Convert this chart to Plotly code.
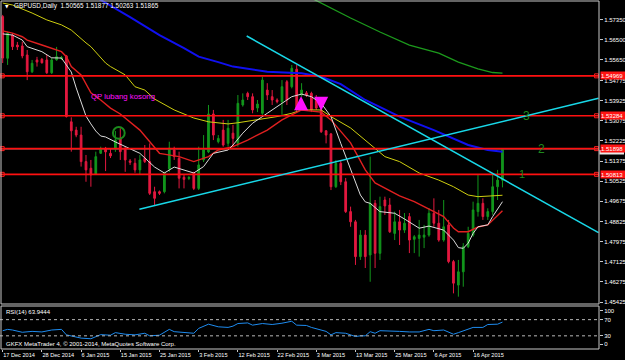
import plotly.graph_objects as go

# ---------------- data ----------------
dates = ["17 Dec 2014","18 Dec 2014","19 Dec 2014","21 Dec 2014","22 Dec 2014","23 Dec 2014","24 Dec 2014","26 Dec 2014",
         "28 Dec 2014","29 Dec 2014","30 Dec 2014","31 Dec 2014","1 Jan 2015","2 Jan 2015","4 Jan 2015","5 Jan 2015",
         "6 Jan 2015","7 Jan 2015","8 Jan 2015","9 Jan 2015","11 Jan 2015","12 Jan 2015","13 Jan 2015","14 Jan 2015",
         "15 Jan 2015","16 Jan 2015","18 Jan 2015","19 Jan 2015","20 Jan 2015","21 Jan 2015","22 Jan 2015","23 Jan 2015",
         "25 Jan 2015","26 Jan 2015","27 Jan 2015","28 Jan 2015","29 Jan 2015","30 Jan 2015","1 Feb 2015","2 Feb 2015",
         "3 Feb 2015","4 Feb 2015","5 Feb 2015","6 Feb 2015","8 Feb 2015","9 Feb 2015","10 Feb 2015","11 Feb 2015",
         "12 Feb 2015","13 Feb 2015","15 Feb 2015","16 Feb 2015","17 Feb 2015","18 Feb 2015","19 Feb 2015","20 Feb 2015",
         "22 Feb 2015","23 Feb 2015","24 Feb 2015","25 Feb 2015","26 Feb 2015","27 Feb 2015","1 Mar 2015","2 Mar 2015",
         "3 Mar 2015","4 Mar 2015","5 Mar 2015","6 Mar 2015","9 Mar 2015","10 Mar 2015","11 Mar 2015","12 Mar 2015",
         "13 Mar 2015","16 Mar 2015","17 Mar 2015","18 Mar 2015","19 Mar 2015","20 Mar 2015","23 Mar 2015","24 Mar 2015",
         "25 Mar 2015","26 Mar 2015","27 Mar 2015","30 Mar 2015","31 Mar 2015","1 Apr 2015","2 Apr 2015","3 Apr 2015",
         "6 Apr 2015","7 Apr 2015","8 Apr 2015","9 Apr 2015","10 Apr 2015","13 Apr 2015","14 Apr 2015","15 Apr 2015",
         "16 Apr 2015","17 Apr 2015","20 Apr 2015","21 Apr 2015","22 Apr 2015","23 Apr 2015","24 Apr 2015"]

open_ = [1.5747,1.5571,1.5669,1.5627,1.5623,1.5585,1.5514,1.5564,1.5567,1.5564,1.5510,1.5564,1.5570,1.5581,1.5303,1.5268,
         1.5247,1.5135,1.5107,1.5083,1.5170,1.5191,1.5170,1.5191,1.5233,1.5191,1.5138,1.5128,1.5100,1.5149,1.5135,1.5008,
         1.5008,1.5008,1.5104,1.5184,1.5149,1.5069,1.5064,1.5086,1.5022,1.5142,1.5176,1.5336,1.5219,1.5268,1.5212,1.5255,
         1.5212,1.5374,1.5423,1.5409,1.5361,1.5339,1.5437,1.5409,1.5395,1.5388,1.5472,1.5451,1.5525,1.5416,1.5425,1.5423,
         1.5403,1.5353,1.5265,1.5252,1.5029,1.5128,1.5050,1.4924,1.4881,1.4734,1.4825,1.4741,1.4959,1.4748,1.4973,1.4952,
         1.4832,1.4881,1.4846,1.4903,1.4807,1.4811,1.4816,1.4825,1.4917,1.4875,1.4804,1.4868,1.4713,1.4614,1.4670,1.4776,
         1.4825,1.4924,1.4959,1.4903,1.4924,1.5029,1.50565]
high = [1.5754,1.5683,1.5677,1.5640,1.5641,1.5606,1.5564,1.5577,1.5572,1.5585,1.5572,1.5619,1.5581,1.5585,1.5322,1.5282,
        1.5282,1.5163,1.5142,1.5177,1.5198,1.5197,1.5192,1.5264,1.5276,1.5198,1.5146,1.5149,1.5163,1.5205,1.5212,1.5029,
        1.5013,1.5092,1.5219,1.5198,1.5177,1.5079,1.5074,1.5092,1.5198,1.5247,1.5374,1.5353,1.5247,1.5311,1.5311,1.5290,
        1.5416,1.5423,1.5430,1.5423,1.5395,1.5493,1.5466,1.5437,1.5402,1.5479,1.5479,1.5543,1.5543,1.5466,1.5433,1.5430,
        1.5416,1.5361,1.5268,1.5256,1.5142,1.5142,1.5066,1.4945,1.4889,1.4846,1.4846,1.5156,1.4973,1.4987,1.4987,1.4981,
        1.4924,1.4931,1.4918,1.4918,1.4825,1.4889,1.4868,1.4939,1.4980,1.4931,1.4973,1.4889,1.4720,1.4720,1.4791,1.4860,
        1.4966,1.5079,1.4980,1.4938,1.5079,1.5100,1.51877]
low = [1.5551,1.5543,1.5606,1.5606,1.5571,1.5479,1.5509,1.5536,1.5549,1.5505,1.5505,1.5561,1.5564,1.5321,1.5177,1.5238,
       1.5114,1.5050,1.5029,1.5079,1.5167,1.5095,1.5150,1.5176,1.5142,1.5092,1.5121,1.5088,1.5079,1.5129,1.4994,1.4952,
       1.4994,1.5001,1.5092,1.5142,1.5022,1.5022,1.5057,1.5015,1.5015,1.5133,1.5171,1.5226,1.5212,1.5198,1.5198,1.5198,
       1.5198,1.5367,1.5395,1.5339,1.5344,1.5332,1.5395,1.5374,1.5381,1.5332,1.5374,1.5444,1.5346,1.5409,1.5408,1.5344,
       1.5353,1.5256,1.5212,1.5015,1.5024,1.5036,1.4918,1.4860,1.4699,1.4720,1.4686,1.4628,1.4686,1.4720,1.4910,1.4834,
       1.4804,1.4783,1.4834,1.4749,1.4749,1.4734,1.4770,1.4818,1.4860,1.4797,1.4797,1.4706,1.4579,1.4565,1.4607,1.4770,
       1.4818,1.4903,1.4889,1.4889,1.4910,1.4973,1.50263]
close = [1.5572,1.5677,1.5620,1.5619,1.5581,1.5514,1.5550,1.5555,1.5552,1.5510,1.5564,1.5578,1.5574,1.5325,1.5265,1.5247,
         1.5135,1.5100,1.5079,1.5156,1.5188,1.5176,1.5159,1.5226,1.5177,1.5142,1.5132,1.5100,1.5142,1.5135,1.5001,1.4980,
         1.5001,1.5086,1.5192,1.5156,1.5065,1.5060,1.5068,1.5022,1.5121,1.5184,1.5336,1.5247,1.5233,1.5205,1.5276,1.5233,
         1.5381,1.5395,1.5409,1.5353,1.5378,1.5479,1.5416,1.5395,1.5388,1.5451,1.5395,1.5529,1.5360,1.5437,1.5416,1.5353,
         1.5361,1.5261,1.5247,1.5029,1.5128,1.5050,1.4924,1.4881,1.4734,1.4825,1.4734,1.4959,1.4748,1.4945,1.4948,1.4839,
         1.4881,1.4846,1.4875,1.4804,1.4818,1.4825,1.4825,1.4917,1.4875,1.4804,1.4860,1.4713,1.4622,1.4670,1.4776,1.4832,
         1.4931,1.4959,1.4903,1.4924,1.5029,1.5057,1.51865]

# moving averages (bar index, price)
ma_white_idx = [0,2,4,5,8,10,12,13,14,15,16,17,18,19,20,21,23,25,28,31,33,35,37,39,41,43,46,47,49,51,54,57,59,61,63,65,67,69,
                71,73,74,75,77,80,82,85,87,90,92,93,94,95,96,97,99,100,102]
ma_white = [1.5674,1.5669,1.5648,1.5620,1.5599,1.5573,1.5572,1.5543,1.5513,1.5446,1.5387,1.5327,1.5294,1.5264,1.5243,1.5239,
            1.5218,1.5198,1.5170,1.5112,1.5087,1.5112,1.5100,1.5087,1.5114,1.5170,1.5184,1.5205,1.5255,1.5297,1.5339,1.5382,
            1.5409,1.5420,1.5409,1.5381,1.5325,1.5212,1.5100,1.4994,1.4965,1.4959,1.4924,1.4917,1.4893,1.4854,1.4863,1.4846,
            1.4804,1.4772,1.4769,1.4791,1.4832,1.4860,1.4868,1.4903,1.4966]
ma_red_idx = [0,2,4,5,8,10,12,13,14,16,18,20,22,24,28,32,36,39,42,44,47,50,54,57,61,65,67,71,74,76,81,84,87,90,92,93,95,97,
              99,100,102]
ma_red = [1.5687,1.5677,1.5662,1.5648,1.5627,1.5613,1.5599,1.5578,1.5536,1.5501,1.5425,1.5395,1.5361,1.5336,1.5268,1.5170,
          1.5156,1.5135,1.5156,1.5184,1.5198,1.5226,1.5268,1.5311,1.5353,1.5344,1.5311,1.5214,1.5100,1.5045,1.4990,1.4966,
          1.4935,1.4903,1.4855,1.4839,1.4839,1.4859,1.4868,1.4889,1.4928]
ma_yellow_idx = [0,2,6,9,12,14,17,18,21,22,25,27,29,31,35,39,42,46,48,52,56,59,61,65,67,71,74,76,78,81,85,89,92,95,97,102]
ma_yellow = [1.5804,1.5796,1.5762,1.5733,1.5712,1.5690,1.5636,1.5620,1.5551,1.5536,1.5501,1.5451,1.5437,1.5399,1.5353,
             1.5319,1.5303,1.5294,1.5299,1.5311,1.5325,1.5339,1.5353,1.5353,1.5325,1.5277,1.5226,1.5192,1.5156,1.5135,
             1.5087,1.5057,1.5029,1.4994,1.4987,1.4993]
ma_blue_idx = [19,20,26,32,37,40,44,47,54,59,61,65,69,74,81,88,95,99,102]
ma_blue = [1.5830,1.5817,1.5745,1.5669,1.5614,1.5578,1.5555,1.5536,1.5514,1.5509,1.5508,1.5493,1.5462,1.5395,1.5325,1.5268,
           1.5205,1.5184,1.5177]
ma_green_idx = [63,67,71,77,83,89,93,97,100,102]
ma_green = [1.5825,1.5783,1.5741,1.5682,1.5627,1.5593,1.5555,1.5526,1.5511,1.5508]

rsi_idx = [0,1,2,4,6,8,10,12,13,14,16,18,20,22,23,25,27,29,30,32,34,35,37,39,40,42,44,46,47,48,50,51,53,55,57,59,60,62,63,
           65,66,67,68,70,72,73,74,75,76,77,79,81,83,85,87,88,90,92,93,95,96,98,99,101,102]
rsi = [42.7,46.0,44.4,38.8,41.0,39.6,44.4,46.0,32.4,30.0,24.4,22.8,33.0,31.6,37.9,34.0,32.4,36.4,30.0,31.6,46.0,40.3,38.8,
       36.4,48.4,58.8,52.3,50.8,54.0,60.4,61.9,56.4,60.4,58.0,61.2,66.0,56.4,55.6,50.8,44.4,41.0,32.4,37.9,36.4,28.3,30.0,
       30.0,40.3,36.4,42.7,42.7,41.0,39.6,39.6,46.0,42.7,44.4,34.0,37.9,46.0,50.8,50.8,58.0,58.8,63.9444]

levels = [1.54969, 1.53284, 1.51898, 1.50813]
level_text = ["1.54969", "1.53284", "1.51898", "1.50813"]
bid = 1.51865
price_ticks = [1.57350,1.56500,1.55650,1.54775,1.53925,1.53075,1.52225,1.51375,1.50525,1.49675,1.48825,1.47975,1.47125,
               1.46275,1.45425]
rsi_tick_text = ["100", "70", "30", "0"]

# trend lines: (bar index, price) endpoints
trend_down = [(49.8, 1.5665), (121.6, 1.4835)]
trend_up = [(27.9, 1.4934), (121.6, 1.5402)]
wave_labels = [("3", 107.0, 1.5328), ("2", 109.9, 1.5187), ("1", 105.9, 1.5083)]

# ---------------- layout constants ----------------
W, H = 625, 360
ML, MR, MT, MB = 0, 26, 0, 11
PW, PH = W - ML - MR, H - MT - MB
MAIN_BOTTOM_PX = 304
RSI_TOP_PX = 306
main_dom = [1 - MAIN_BOTTOM_PX / PH, 1]
rsi_dom = [0, 1 - RSI_TOP_PX / PH]
BULL = "#12961C"
BEAR = "#E3183F"
FONT = "Liberation Sans"
TXT = "#FFFFFF"

def px(xp, yp):
    return xp / PW, 1 - yp / PH

x = list(range(len(dates)))
tick_idx = list(range(0, len(dates), 8))
tick_text = [dates[i] for i in tick_idx]

fig = go.Figure()

# MAs
for idx, vals, col, w in [(ma_green_idx, ma_green, "#1C9A1C", 1.3),
                          (ma_blue_idx, ma_blue, "#1010F0", 2),
                          (ma_yellow_idx, ma_yellow, "#CFCF10", 1),
                          (ma_red_idx, ma_red, "#E02020", 1.4),
                          (ma_white_idx, ma_white, "#DCDCDC", 1)]:
    fig.add_trace(go.Scatter(x=idx, y=vals, mode="lines", line=dict(color=col, width=w),
                             xaxis="x", yaxis="y", showlegend=False, hoverinfo="skip"))

fig.add_trace(go.Candlestick(x=x, open=open_, high=high, low=low, close=close,
                             increasing=dict(line=dict(color=BULL, width=1), fillcolor=BULL),
                             decreasing=dict(line=dict(color=BEAR, width=1), fillcolor=BEAR),
                             whiskerwidth=0, xaxis="x", yaxis="y", showlegend=False, hoverinfo="skip"))

# level anchor squares
fig.add_trace(go.Scatter(x=[-0.1] * len(levels) + [121.2] * len(levels), y=levels + levels, mode="markers",
                         marker=dict(symbol="square-open", size=4, color="#FF2020", line=dict(width=1)),
                         xaxis="x", yaxis="y", showlegend=False, hoverinfo="skip"))

# RSI
fig.add_trace(go.Scatter(x=rsi_idx, y=rsi, mode="lines", line=dict(color="#1E8CF0", width=1),
                         xaxis="x", yaxis="y2", showlegend=False, hoverinfo="skip"))

shapes = []
for lv in levels:
    shapes.append(dict(type="line", xref="paper", yref="y", x0=0, x1=1, y0=lv, y1=lv,
                       line=dict(color="#FF1010", width=1.6), layer="above"))
shapes.append(dict(type="line", xref="paper", yref="y", x0=0, x1=1, y0=bid, y1=bid,
                   line=dict(color="#3C4448", width=1), layer="below"))
for (a, b) in [trend_down, trend_up]:
    shapes.append(dict(type="line", xref="x", yref="y", x0=a[0], y0=a[1], x1=b[0], y1=b[1],
                       line=dict(color="#18D8E8", width=1.5)))
# green circle marker
shapes.append(dict(type="circle", xref="x", yref="y", x0=22.5, x1=24.9, y0=1.5231, y1=1.5281,
                   line=dict(color="#1C8A1C", width=2)))
# RSI levels
for lv in [70, 30]:
    shapes.append(dict(type="line", xref="paper", yref="y2", x0=0, x1=1, y0=lv, y1=lv,
                       line=dict(color="#B8B8B8", width=1, dash="dot")))
# panel frames
shapes.append(dict(type="rect", xref="paper", yref="paper", x0=1 / PW, x1=1, y0=main_dom[0], y1=1 - 1 / PH,
                   line=dict(color="#C8C8C8", width=1)))
shapes.append(dict(type="rect", xref="paper", yref="paper", x0=1 / PW, x1=1, y0=0, y1=rsi_dom[1],
                   line=dict(color="#C8C8C8", width=1)))
# current-price marker box on the scale (mostly hidden under the level label)
_, by0 = px(0, 154.5)
_, by1 = px(0, 150)
shapes.append(dict(type="rect", xref="paper", yref="paper", x0=1 + 0.5 / PW, x1=1 + 25 / PW, y0=by0, y1=by1,
                   line=dict(width=0), fillcolor="#E8E8E8", layer="above"))

ann = []
tx, ty = px(11.5, 6.5)
ann.append(dict(xref="paper", yref="paper", x=tx, y=ty, xanchor="left", yanchor="middle", showarrow=False,
                text="GBPUSD,Daily  1.50565 1.51877 1.50263 1.51865", font=dict(family=FONT, size=6.4, color=TXT)))
tx, ty = px(2.5, 6.5)
ann.append(dict(xref="paper", yref="paper", x=tx, y=ty, xanchor="left", yanchor="middle", showarrow=False,
                text="▼", font=dict(family="DejaVu Sans", size=4.5, color=TXT)))
ann.append(dict(xref="x", yref="y", x=17.6, y=1.5410, xanchor="left", yanchor="middle", showarrow=False,
                text="QP lubang kosong", font=dict(family=FONT, size=7.8, color="#FF10FF")))
for t, xi, yv in wave_labels:
    ann.append(dict(xref="x", yref="y", x=xi, y=yv, xanchor="center", yanchor="middle", showarrow=False,
                    text=t, font=dict(family=FONT, size=12 if t != "1" else 11, color="#1E8A1E")))
# magenta arrows
ann.append(dict(xref="x", yref="y", x=60.9, y=1.5411, ax=0, ay=14, showarrow=True, arrowhead=2, arrowsize=0.8,
                arrowwidth=3.5, arrowcolor="#FF10FF", text="", standoff=0))
ann.append(dict(xref="x", yref="y", x=65.0, y=1.5350, ax=0, ay=-14, showarrow=True, arrowhead=2, arrowsize=0.8,
                arrowwidth=3.5, arrowcolor="#FF10FF", text="", standoff=0))
for lv, t in zip(levels, level_text):
    ann.append(dict(xref="paper", yref="y", x=1, y=lv, xanchor="left", yanchor="middle", showarrow=False, xshift=0.5,
                    text=t, bgcolor="#FF1414", font=dict(family=FONT, size=6, color="#FFFFFF"),
                    width=25, height=7, align="left", borderpad=0))
tx, ty = px(3.5, 312)
ann.append(dict(xref="paper", yref="paper", x=tx, y=ty, xanchor="left", yanchor="middle", showarrow=False,
                text="RSI(14) 63.9444", font=dict(family=FONT, size=6, color=TXT)))
tx, ty = px(3.5, 344)
ann.append(dict(xref="paper", yref="paper", x=tx, y=ty, xanchor="left", yanchor="middle", showarrow=False,
                text="GKFX MetaTrader 4, © 2001-2014, MetaQuotes Software Corp.",
                font=dict(family=FONT, size=6, color=TXT)))

fig.update_layout(
    width=W, height=H, margin=dict(l=ML, r=MR, t=MT, b=MB, autoexpand=False),
    paper_bgcolor="#000000", plot_bgcolor="#000000",
    boxgap=0.5,
    shapes=shapes, annotations=ann,
    xaxis=dict(domain=[0, 1], anchor="y2", range=[-0.55, 121.7], showgrid=False, zeroline=False,
               tickmode="array", tickvals=tick_idx, ticktext=tick_text, ticks="outside", ticklen=2,
               tickcolor="#C8C8C8", ticklabelposition="outside right", tickangle=0, automargin=False,
               tickfont=dict(family=FONT, size=5.6, color=TXT), showline=False,
               rangeslider=dict(visible=False)),
    yaxis=dict(domain=main_dom, anchor="x", side="right", range=[1.5817 - 0.000422 * MAIN_BOTTOM_PX, 1.5817],
               showgrid=False, zeroline=False, tickmode="array", tickvals=price_ticks, automargin=False,
               ticktext=[f"{v:.5f}" for v in price_ticks], ticks="outside", ticklen=3, tickcolor="#C8C8C8",
               tickfont=dict(family=FONT, size=6, color=TXT)),
    yaxis2=dict(domain=rsi_dom, anchor="x", side="right", range=[-2.5, 103.7], showgrid=False, zeroline=False,
                tickmode="array", tickvals=[92, 70, 30, 9], ticktext=rsi_tick_text, ticks="outside", ticklen=3,
                automargin=False, tickcolor="#C8C8C8", tickfont=dict(family=FONT, size=6, color=TXT)),
)

fig.write_html("out.html")
